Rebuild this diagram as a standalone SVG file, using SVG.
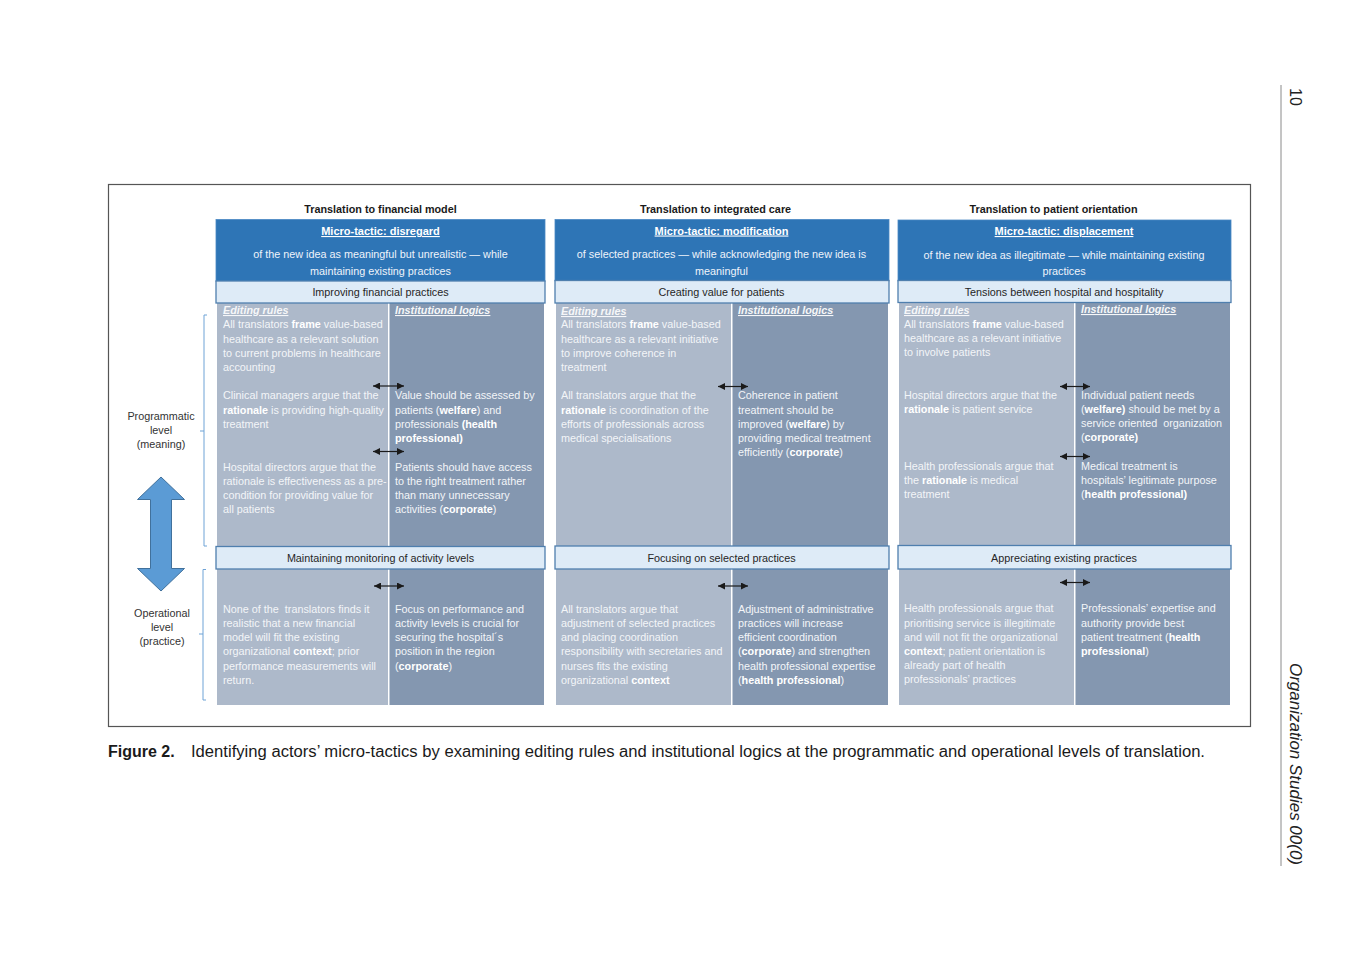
<svg xmlns="http://www.w3.org/2000/svg" width="1372" height="964" viewBox="0 0 1372 964">
<defs>
<style>
text{font-family:"Liberation Sans",Arial,sans-serif;}
.c{font-size:10.8px;fill:#f3f5f8;}
.b{font-weight:bold;fill:#ffffff;}
.pre{white-space:pre;}
.h{font-size:10.8px;font-weight:bold;font-style:italic;text-decoration:underline;fill:#f6f7f9;}
.ttl{font-size:10.8px;font-weight:bold;fill:#1a1a1a;text-anchor:middle;}
.mt{font-size:11px;font-weight:bold;fill:#ffffff;text-anchor:middle;text-decoration:underline;}
.md{font-size:10.8px;fill:#eef3fa;text-anchor:middle;}
.bd{font-size:10.8px;fill:#262626;text-anchor:middle;}
.lv{font-size:10.8px;fill:#333333;text-anchor:middle;}
.blue{fill:#2e75b6;stroke:#4a88c4;stroke-width:0.8;}
.band{fill:#deebf7;stroke:#4f7fae;stroke-width:1.3;}
.gl{fill:#adb9ca;}
.gr{fill:#8497b0;}
.br{fill:none;stroke:#6fa3d6;stroke-width:1;}
.dbl{stroke:#1a1a1a;stroke-width:1.2;marker-start:url(#ah);marker-end:url(#ah);}
</style>
<marker id="ah" viewBox="0 0 10 10" refX="10" refY="5" markerWidth="8" markerHeight="7" markerUnits="userSpaceOnUse" orient="auto-start-reverse">
<path d="M0,0 L10,5 L0,10 z" fill="#1a1a1a"/>
</marker>
</defs>
<rect width="1372" height="964" fill="#ffffff"/>

<!-- page furniture -->
<g id="page">
<line x1="1281" y1="85" x2="1281" y2="866" stroke="#8a8a8a" stroke-width="1"/>
<text transform="translate(1290,88) rotate(90)" font-size="16" fill="#222">10</text>
<text transform="translate(1290,663) rotate(90)" font-size="16" font-style="italic" fill="#222" textLength="202" lengthAdjust="spacingAndGlyphs">Organization Studies 00(0)</text>
<rect x="108.5" y="184.5" width="1142" height="542" fill="none" stroke="#555555" stroke-width="1.2"/>
<text x="108" y="757" font-size="16" fill="#1a1a1a"><tspan font-weight="bold">Figure 2.</tspan></text>
<text x="191" y="757" font-size="16" fill="#1a1a1a" textLength="1014" lengthAdjust="spacingAndGlyphs">Identifying actors’ micro-tactics by examining editing rules and institutional logics at the programmatic and operational levels of translation.</text>
</g>

<!-- level labels -->
<g id="levels">
<path class="br" d="M207,315 H204 V546 H207 M204,431 H200"/>
<path class="br" d="M206,569.5 H203 V700 H206 M203,634 H199"/>
<text class="lv" x="161" y="420">Programmatic</text>
<text class="lv" x="161" y="434">level</text>
<text class="lv" x="161" y="448">(meaning)</text>
<text class="lv" x="162" y="617">Operational</text>
<text class="lv" x="162" y="631">level</text>
<text class="lv" x="162" y="645">(practice)</text>
<polygon points="161,477 184.5,499.5 171.5,499.5 171.5,568.5 184.5,568.5 161,591 137.5,568.5 150.5,568.5 150.5,499.5 137.5,499.5" fill="#5b9bd5" stroke="#41719c" stroke-width="1"/>
</g>

<!-- column 1 -->
<g id="col-financial">
<text class="ttl" x="380.5" y="213">Translation to financial model</text>
<rect class="gl" x="217" y="303" width="171" height="402"/>
<rect class="gr" x="389.5" y="303" width="154.5" height="402"/>
<g id="c1-header">
<rect class="blue" x="216" y="219.5" width="329" height="62"/>
<text class="mt" x="380.5" y="235">Micro-tactic: disregard</text>
<text class="md" x="380.5" y="258">of the new idea as meaningful but unrealistic — while</text>
<text class="md" x="380.5" y="275">maintaining existing practices</text>
</g>
<g id="c1-band1"><rect class="band" x="216" y="281" width="329" height="22"/><text class="bd" x="380.5" y="296">Improving financial practices</text></g>
<g id="c1-prog-edit">
<text class="h" x="223" y="314">Editing rules</text>
<text class="c" x="223" y="328">All translators <tspan class="b">frame</tspan> value-based</text>
<text class="c" x="223" y="342.5">healthcare as a relevant solution</text>
<text class="c" x="223" y="357">to current problems in healthcare</text>
<text class="c" x="223" y="371">accounting</text>
<text class="c" x="223" y="399">Clinical managers argue that the</text>
<text class="c" x="223" y="414"><tspan class="b">rationale</tspan> is providing high-quality</text>
<text class="c" x="223" y="428">treatment</text>
<text class="c" x="223" y="471">Hospital directors argue that the</text>
<text class="c" x="223" y="485">rationale is effectiveness as a pre-</text>
<text class="c" x="223" y="499">condition for providing value for</text>
<text class="c" x="223" y="513">all patients</text>
</g>
<g id="c1-prog-logic">
<text class="h" x="395" y="314">Institutional logics</text>
<text class="c" x="395" y="399">Value should be assessed by</text>
<text class="c" x="395" y="414">patients (<tspan class="b">welfare</tspan>) and</text>
<text class="c" x="395" y="428">professionals <tspan class="b">(health</tspan></text>
<text class="c" x="395" y="442"><tspan class="b">professional)</tspan></text>
<text class="c" x="395" y="471">Patients should have access</text>
<text class="c" x="395" y="485">to the right treatment rather</text>
<text class="c" x="395" y="499">than many unnecessary</text>
<text class="c" x="395" y="513">activities (<tspan class="b">corporate</tspan>)</text>
</g>
<g id="c1-band2"><rect class="band" x="216" y="546.5" width="329" height="22.5"/><text class="bd" x="380.5" y="561.5">Maintaining monitoring of activity levels</text></g>
<g id="c1-op-edit">
<text class="c pre" x="223" y="613">None of the  translators finds it</text>
<text class="c" x="223" y="627">realistic that a new financial</text>
<text class="c" x="223" y="641">model will fit the existing</text>
<text class="c" x="223" y="655">organizational <tspan class="b">context</tspan>; prior</text>
<text class="c" x="223" y="670">performance measurements will</text>
<text class="c" x="223" y="684">return.</text>
</g>
<g id="c1-op-logic">
<text class="c" x="395" y="613">Focus on performance and</text>
<text class="c" x="395" y="627">activity levels is crucial for</text>
<text class="c" x="395" y="641">securing the hospital´s</text>
<text class="c" x="395" y="655">position in the region</text>
<text class="c" x="395" y="670">(<tspan class="b">corporate</tspan>)</text>
</g>
</g>

<!-- column 2 -->
<g id="col-integrated">
<text class="ttl" x="715.5" y="212.5">Translation to integrated care</text>
<rect class="gl" x="556" y="303" width="175" height="402"/>
<rect class="gr" x="732.5" y="303" width="155.5" height="402"/>
<g id="c2-header">
<rect class="blue" x="555" y="219.5" width="334" height="61.5"/>
<text class="mt" x="721.5" y="234.5">Micro-tactic: modification</text>
<text class="md" x="721.5" y="258">of selected practices — while acknowledging the new idea is</text>
<text class="md" x="721.5" y="275">meaningful</text>
</g>
<g id="c2-band1"><rect class="band" x="555" y="280.5" width="334" height="22.5"/><text class="bd" x="721.5" y="295.5">Creating value for patients</text></g>
<g id="c2-prog-edit">
<text class="h" x="561" y="315">Editing rules</text>
<text class="c" x="561" y="328">All translators <tspan class="b">frame</tspan> value-based</text>
<text class="c" x="561" y="342.5">healthcare as a relevant initiative</text>
<text class="c" x="561" y="357">to improve coherence in</text>
<text class="c" x="561" y="371">treatment</text>
<text class="c" x="561" y="399">All translators argue that the</text>
<text class="c" x="561" y="414"><tspan class="b">rationale</tspan> is coordination of the</text>
<text class="c" x="561" y="428">efforts of professionals across</text>
<text class="c" x="561" y="442">medical specialisations</text>
</g>
<g id="c2-prog-logic">
<text class="h" x="738" y="314">Institutional logics</text>
<text class="c" x="738" y="399">Coherence in patient</text>
<text class="c" x="738" y="414">treatment should be</text>
<text class="c" x="738" y="428">improved (<tspan class="b">welfare</tspan>) by</text>
<text class="c" x="738" y="442">providing medical treatment</text>
<text class="c" x="738" y="456">efficiently (<tspan class="b">corporate</tspan>)</text>
</g>
<g id="c2-band2"><rect class="band" x="555" y="546" width="334" height="23"/><text class="bd" x="721.5" y="561.5">Focusing on selected practices</text></g>
<g id="c2-op-edit">
<text class="c" x="561" y="613">All translators argue that</text>
<text class="c" x="561" y="627">adjustment of selected practices</text>
<text class="c" x="561" y="641">and placing coordination</text>
<text class="c" x="561" y="655">responsibility with secretaries and</text>
<text class="c" x="561" y="670">nurses fits the existing</text>
<text class="c" x="561" y="684">organizational <tspan class="b">context</tspan></text>
</g>
<g id="c2-op-logic">
<text class="c" x="738" y="613">Adjustment of administrative</text>
<text class="c" x="738" y="627">practices will increase</text>
<text class="c" x="738" y="641">efficient coordination</text>
<text class="c" x="738" y="655">(<tspan class="b">corporate</tspan>) and strengthen</text>
<text class="c" x="738" y="670">health professional expertise</text>
<text class="c" x="738" y="684">(<tspan class="b">health professional</tspan>)</text>
</g>
</g>

<!-- column 3 -->
<g id="col-patient">
<text class="ttl" x="1053.5" y="213">Translation to patient orientation</text>
<rect class="gl" x="899" y="303" width="175" height="402"/>
<rect class="gr" x="1075.5" y="303" width="154.5" height="402"/>
<g id="c3-header">
<rect class="blue" x="898" y="220" width="333" height="61"/>
<text class="mt" x="1064" y="235">Micro-tactic: displacement</text>
<text class="md" x="1064" y="259">of the new idea as illegitimate — while maintaining existing</text>
<text class="md" x="1064" y="275">practices</text>
</g>
<g id="c3-band1"><rect class="band" x="898" y="280.5" width="333" height="22"/><text class="bd" x="1064" y="295.5">Tensions between hospital and hospitality</text></g>
<g id="c3-prog-edit">
<text class="h" x="904" y="314">Editing rules</text>
<text class="c" x="904" y="328">All translators <tspan class="b">frame</tspan> value-based</text>
<text class="c" x="904" y="342">healthcare as a relevant initiative</text>
<text class="c" x="904" y="356">to involve patients</text>
<text class="c" x="904" y="399">Hospital directors argue that the</text>
<text class="c" x="904" y="413"><tspan class="b">rationale</tspan> is patient service</text>
<text class="c" x="904" y="470">Health professionals argue that</text>
<text class="c" x="904" y="484">the <tspan class="b">rationale</tspan> is medical</text>
<text class="c" x="904" y="498">treatment</text>
</g>
<g id="c3-prog-logic">
<text class="h" x="1081" y="313">Institutional logics</text>
<text class="c" x="1081" y="399">Individual patient needs</text>
<text class="c" x="1081" y="413">(<tspan class="b">welfare)</tspan> should be met by a</text>
<text class="c pre" x="1081" y="427">service oriented  organization</text>
<text class="c" x="1081" y="441">(<tspan class="b">corporate)</tspan></text>
<text class="c" x="1081" y="470">Medical treatment is</text>
<text class="c" x="1081" y="484">hospitals’ legitimate purpose</text>
<text class="c" x="1081" y="498">(<tspan class="b">health professional)</tspan></text>
</g>
<g id="c3-band2"><rect class="band" x="898" y="545.5" width="333" height="23.5"/><text class="bd" x="1064" y="561.5">Appreciating existing practices</text></g>
<g id="c3-op-edit">
<text class="c" x="904" y="612">Health professionals argue that</text>
<text class="c" x="904" y="627">prioritising service is illegitimate</text>
<text class="c" x="904" y="641">and will not fit the organizational</text>
<text class="c" x="904" y="655"><tspan class="b">context</tspan>; patient orientation is</text>
<text class="c" x="904" y="669">already part of health</text>
<text class="c" x="904" y="683">professionals’ practices</text>
</g>
<g id="c3-op-logic">
<text class="c" x="1081" y="612">Professionals’ expertise and</text>
<text class="c" x="1081" y="627">authority provide best</text>
<text class="c" x="1081" y="641">patient treatment (<tspan class="b">health</tspan></text>
<text class="c" x="1081" y="655"><tspan class="b">professional</tspan>)</text>
</g>
</g>

<!-- connectors -->
<g id="connectors">
<line class="dbl" x1="373" y1="386" x2="404" y2="386"/>
<line class="dbl" x1="373" y1="451.5" x2="404" y2="451.5"/>
<line class="dbl" x1="374" y1="586" x2="404" y2="586"/>
<line class="dbl" x1="718" y1="386.5" x2="748" y2="386.5"/>
<line class="dbl" x1="718" y1="586" x2="748" y2="586"/>
<line class="dbl" x1="1060" y1="386.5" x2="1090" y2="386.5"/>
<line class="dbl" x1="1060" y1="456.5" x2="1090" y2="456.5"/>
<line class="dbl" x1="1060" y1="582.5" x2="1090" y2="582.5"/>
</g>
</svg>
